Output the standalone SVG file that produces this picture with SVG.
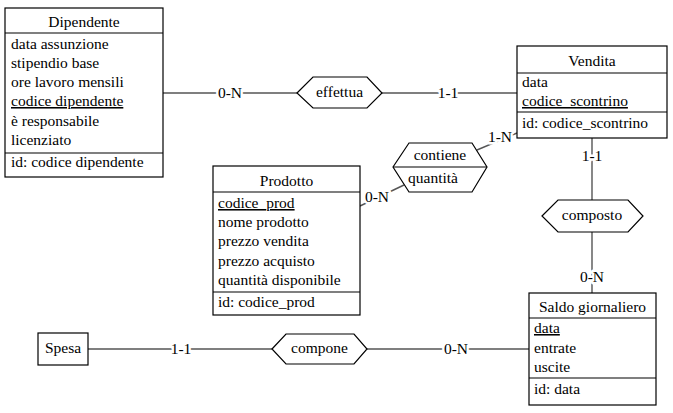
<svg xmlns="http://www.w3.org/2000/svg" width="673" height="413" viewBox="0 0 673 413">
<style>
text{font-family:"Liberation Serif","Times New Roman",serif;font-size:15.5px;fill:#000}
.box{fill:#fff;stroke:#000;stroke-width:1.2}
.sep{stroke:#000;stroke-width:1.2}
.rel{fill:#fff;stroke:#000;stroke-width:1.2}
.c{text-anchor:middle}
.u{text-decoration:underline}
.conn line{stroke:#555;stroke-width:1.4}
.lbl{text-anchor:middle;stroke:#fff;stroke-width:5;paint-order:stroke;stroke-linejoin:round}
</style>
<rect width="673" height="413" fill="#fff"/>
<g id="connectors" class="conn">
<line x1="163" y1="93" x2="297" y2="93"/>
<line x1="382" y1="93" x2="517" y2="93"/>
<line x1="592" y1="138" x2="592" y2="200"/>
<line x1="592" y1="232" x2="592" y2="293"/>
<line x1="88" y1="349" x2="272" y2="349"/>
<line x1="367" y1="349" x2="529" y2="349"/>
<line x1="360" y1="206" x2="404" y2="185"/>
<line x1="477" y1="150" x2="517" y2="133"/>
<text class="lbl" x="230" y="98">0-N</text>
<text class="lbl" x="448" y="98">1-1</text>
<text class="lbl" x="592" y="161">1-1</text>
<text class="lbl" x="592" y="282">0-N</text>
<text class="lbl" x="181" y="354">1-1</text>
<text class="lbl" x="456" y="354">0-N</text>
<text class="lbl" x="377" y="202">0-N</text>
<text class="lbl" x="500" y="142">1-N</text>
</g>
<g id="dipendente">
<rect class="box" x="5" y="8" width="158" height="169"/>
<line class="sep" x1="5" y1="33" x2="163" y2="33"/>
<line class="sep" x1="5" y1="153" x2="163" y2="153"/>
<text class="c" x="84" y="27">Dipendente</text>
<text x="11" y="49">data assunzione</text>
<text x="11" y="68">stipendio base</text>
<text x="11" y="87">ore lavoro mensili</text>
<text class="u" x="11" y="106">codice dipendente</text>
<text x="11" y="126">è responsabile</text>
<text x="11" y="145">licenziato</text>
<text x="11" y="167">id: codice dipendente</text>
</g>
<g id="effettua">
<polygon class="rel" points="297,93 313,77 367,77 382,93 367,108 313,108"/>
<text class="c" x="339.5" y="97">effettua</text>
</g>
<g id="vendita">
<rect class="box" x="517" y="46" width="150" height="92"/>
<line class="sep" x1="517" y1="73" x2="667" y2="73"/>
<line class="sep" x1="517" y1="112" x2="667" y2="112"/>
<text class="c" x="592" y="66">Vendita</text>
<text x="522" y="87">data</text>
<text class="u" x="522" y="106">codice_scontrino</text>
<text x="522" y="128">id: codice_scontrino</text>
</g>
<g id="contiene">
<polygon class="rel" points="393,167 409,143 472,143 487,167 472,192 409,192"/>
<line class="sep" x1="393" y1="167" x2="487" y2="167"/>
<text class="c" x="440" y="160">contiene</text>
<text x="408" y="183">quantità</text>
</g>
<g id="prodotto">
<rect class="box" x="213" y="166" width="147" height="149"/>
<line class="sep" x1="213" y1="192" x2="360" y2="192"/>
<line class="sep" x1="213" y1="292" x2="360" y2="292"/>
<text class="c" x="286.5" y="186">Prodotto</text>
<text class="u" x="218" y="208">codice_prod</text>
<text x="218" y="227">nome prodotto</text>
<text x="218" y="246">prezzo vendita</text>
<text x="218" y="266">prezzo acquisto</text>
<text x="218" y="285">quantità disponibile</text>
<text x="218" y="307">id: codice_prod</text>
</g>
<g id="composto">
<polygon class="rel" points="542,216 558,200 628,200 643,216 628,232 558,232"/>
<text class="c" x="592" y="220">composto</text>
</g>
<g id="saldo">
<rect class="box" x="529" y="293" width="127" height="112"/>
<line class="sep" x1="529" y1="318" x2="656" y2="318"/>
<line class="sep" x1="529" y1="378" x2="656" y2="378"/>
<text class="c" x="592.5" y="312">Saldo giornaliero</text>
<text class="u" x="534" y="333">data</text>
<text x="534" y="353">entrate</text>
<text x="534" y="372">uscite</text>
<text x="534" y="394">id: data</text>
</g>
<g id="spesa">
<rect class="box" x="38" y="333" width="50" height="32"/>
<text class="c" x="63" y="353">Spesa</text>
</g>
<g id="compone">
<polygon class="rel" points="272,349 286,334 354,334 367,349 354,364 286,364"/>
<text class="c" x="319.5" y="353">compone</text>
</g>
</svg>
